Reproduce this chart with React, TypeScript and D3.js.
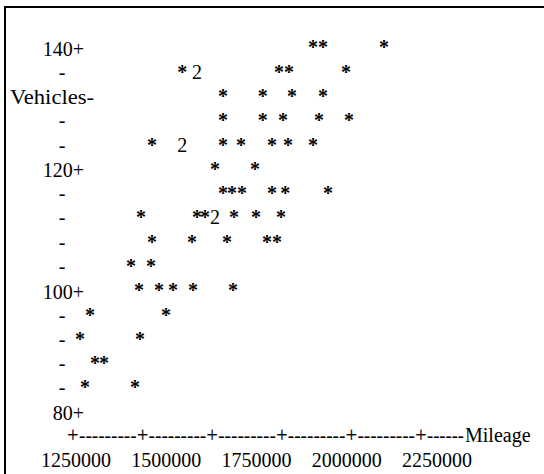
import React, { useEffect, useRef } from "react";
import * as d3 from "d3";

// points, one entry per symbol
const mileage = [
  2112000, 2148000, 2367000,
  1642000, 1695000, 1990000, 2026000, 2231000,
  1789000, 1932000, 2037000, 2148000,
  1789000, 1932000, 2004000, 2134000, 2241000,
  1534000, 1642000, 1789000, 1853000, 1965000, 2022000, 2112000,
  1760000, 1904000,
  1789000, 1821000, 1857000, 1965000, 2012000, 2166000,
  1494000, 1695000, 1724000, 1760000, 1828000, 1907000, 1997000,
  1534000, 1677000, 1803000, 1947000, 1983000,
  1458000, 1530000,
  1487000, 1559000, 1609000, 1681000, 1825000,
  1311000, 1584000,
  1275000, 1491000,
  1329000, 1361000,
  1293000, 1473000,
];
const vehicles = [
  140, 140, 140,
  136, 136, 136, 136, 136,
  132, 132, 132, 132,
  128, 128, 128, 128, 128,
  124, 124, 124, 124, 124, 124, 124,
  120, 120,
  116, 116, 116, 116, 116, 116,
  112, 112, 112, 112, 112, 112, 112,
  108, 108, 108, 108, 108,
  104, 104,
  100, 100, 100, 100, 100,
  96, 96,
  92, 92,
  88, 88,
  84, 84,
];
// how many observations share a plotting position (2 is printed as "2")
const counts = [
  1, 1, 1,
  1, 2, 1, 1, 1,
  1, 1, 1, 1,
  1, 1, 1, 1, 1,
  1, 2, 1, 1, 1, 1, 1,
  1, 1,
  1, 1, 1, 1, 1, 1,
  1, 1, 1, 2, 1, 1, 1,
  1, 1, 1, 1, 1,
  1, 1,
  1, 1, 1, 1, 1,
  1, 1,
  1, 1,
  1, 1,
  1, 1,
];

const xTicks = [1250000, 1500000, 1750000, 2000000, 2250000, 2500000];
const xTickLabels = ["1250000", "1500000", "1750000", "2000000", "2250000"];
const yMajor = [140, 120, 100, 80];
const yTitle = "Vehicles";
const xTitle = "Mileage";

const App = () => {
  const svgRef = useRef<SVGSVGElement | null>(null);

  useEffect(() => {
    const w = 544;
    const h = 474;
    const font = "'Liberation Serif', 'Times New Roman', serif";
    const fs = 20;

    const svg = d3.select(svgRef.current).attr("width", w).attr("height", h);
    svg.selectAll("*").remove();

    // frame (only top and left edges show in the scan)
    svg
      .append("path")
      .attr("d", `M5,${h} V7 H${w}`)
      .attr("fill", "none")
      .attr("stroke", "black")
      .attr("stroke-width", 2);

    const x = d3.scaleLinear().domain([1250000, 2500000]).range([73, 421]);
    const y = d3.scaleLinear().domain([80, 140]).range([409.3, 45]);

    const g = svg
      .append("g")
      .style("font-family", font)
      .style("font-size", fs + "px")
      .attr("fill", "#000");

    // y axis, one text row every 4 vehicles
    const rows = d3.range(80, 141, 4);
    rows.forEach((v) => {
      if (yMajor.includes(v)) {
        g.append("text")
          .attr("x", 84)
          .attr("y", y(v) + 11)
          .attr("text-anchor", "end")
          .text(v + "+");
      } else if (v === 132) {
        g.append("text")
          .attr("x", 10)
          .attr("y", y(v) + 10)
          .attr("textLength", 84)
          .attr("lengthAdjust", "spacingAndGlyphs")
          .text(yTitle + "-");
      } else {
        g.append("text")
          .attr("x", 62)
          .attr("y", y(v) + 9.4)
          .attr("text-anchor", "middle")
          .text("-");
      }
    });

    // x axis drawn with characters: +---------+---------+ ... ------Mileage
    const axisY = 442;
    const plusW = 12;
    xTicks.forEach((t, i) => {
      g.append("text")
        .attr("x", x(t))
        .attr("y", axisY)
        .attr("text-anchor", "middle")
        .attr("stroke", "#000")
        .attr("stroke-width", 0.2)
        .text("+");
      const x0 = x(t) + plusW / 2;
      const x1 = i < xTicks.length - 1 ? x(xTicks[i + 1]) - plusW / 2 : 464;
      const dashes = i < xTicks.length - 1 ? "---------" : "------";
      g.append("text")
        .attr("x", x0)
        .attr("y", axisY)
        .attr("textLength", x1 - x0)
        .attr("lengthAdjust", "spacingAndGlyphs")
        .text(dashes);
    });
    g.append("text").attr("x", 465).attr("y", axisY).text(xTitle);

    // tick labels drift to the right like the printed output
    const lab = d3.scalePoint<string>().domain(xTickLabels).range([76, 437]);
    g.selectAll(".xlab")
      .data(xTickLabels)
      .join("text")
      .attr("class", "xlab")
      .attr("x", (d) => lab(d) as number)
      .attr("y", 467)
      .attr("text-anchor", "middle")
      .text((d) => d);

    // points
    const pts = mileage.map((m, i) => ({ m, v: vehicles[i], c: counts[i] }));
    g.selectAll(".pt")
      .data(pts)
      .join("text")
      .attr("class", "pt")
      .attr("x", (d) => x(d.m))
      .attr("y", (d) => y(d.v) + 9.4)
      .attr("text-anchor", "middle")
      .style("font-weight", (d) => (d.c > 1 ? "normal" : "bold"))
      .text((d) => (d.c > 1 ? String(d.c) : "*"));
  }, []);

  return (
    <div style={{ position: "absolute", left: 0, top: 0 }}>
      <svg ref={svgRef}></svg>
    </div>
  );
};

export default App;
